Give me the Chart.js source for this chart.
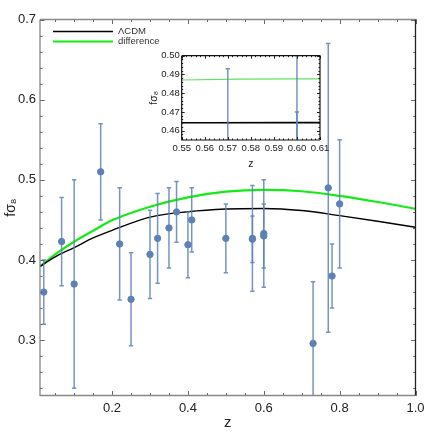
<!DOCTYPE html>
<html>
<head>
<meta charset="utf-8">
<script src="https://cdn.jsdelivr.net/npm/chart.js@4"></script>
<style>
  html, body { margin: 0; padding: 0; background: #fff; }
  #wrap { position: relative; width: 436px; height: 433px; }
  #mainChart { position: absolute; left: 0; top: 0; }
  #insetChart { position: absolute; left: 140px; top: 48px; }
</style>
</head>
<body>
<div id="wrap">
  <canvas id="mainChart" width="436" height="433"></canvas>
  <canvas id="insetChart" width="195" height="125"></canvas>
</div>
<script>
// measurements: redshift, f*sigma8 and its error
const zData   = [0.02, 0.067, 0.10, 0.17, 0.22, 0.25, 0.30, 0.32, 0.35, 0.37, 0.40, 0.41, 0.50, 0.57, 0.57, 0.60, 0.60, 0.73, 0.77, 0.78, 0.80];
const fsData  = [0.360, 0.423, 0.370, 0.510, 0.420, 0.351, 0.407, 0.427, 0.440, 0.460, 0.419, 0.450, 0.427, 0.427, 0.426, 0.430, 0.433, 0.296, 0.490, 0.380, 0.470];
const errData = [0.040, 0.055, 0.130, 0.060, 0.070, 0.058, 0.055, 0.056, 0.050, 0.038, 0.041, 0.040, 0.043, 0.066, 0.029, 0.040, 0.067, 0.077, 0.180, 0.040, 0.080];

// model curves
const zCurve    = [0.01, 0.05, 0.10, 0.15, 0.20, 0.30, 0.40, 0.50, 0.60, 0.70, 0.80, 0.90, 1.00];
const lcdmCurve = [0.392, 0.404, 0.4155, 0.4275, 0.437, 0.4535, 0.4602, 0.4636, 0.4643, 0.4617, 0.4553, 0.4483, 0.4408];
const diffCurve = [0.392, 0.407, 0.4228, 0.4365, 0.4495, 0.4665, 0.4782, 0.4853, 0.4876, 0.4858, 0.4800, 0.4724, 0.4638];

const xTicksMain  = [0.2, 0.4, 0.6, 0.8, 1.0];
const yTicksMain  = [0.3, 0.4, 0.5, 0.6, 0.7];
const xTicksInset = [0.55, 0.56, 0.57, 0.58, 0.59, 0.60, 0.61];
const yTicksInset = [0.46, 0.47, 0.48, 0.49, 0.50];

const family = '"Liberation Sans", Arial, sans-serif';
const pointColor = 'rgb(94,129,181)';
const barColor = 'rgba(94,129,181,0.85)';
const green = 'rgb(20,235,20)';

function toXY(xs, ys) {
  return xs.map((x, i) => ({ x: x, y: ys[i] }));
}

// vertical error bars with small caps, drawn right before the point dataset
const errorBars = {
  id: 'errorBars',
  beforeDatasetDraw(chart, args) {
    const ds = chart.data.datasets[args.index];
    if (!ds.errors) return;
    const { ctx, chartArea: a, scales: { x, y } } = chart;
    ctx.save();
    ctx.beginPath();
    ctx.rect(a.left, a.top, a.right - a.left, a.bottom - a.top);
    ctx.clip();
    ctx.strokeStyle = barColor;
    ctx.lineWidth = 1.5;
    ds.data.forEach((p, i) => {
      const px = x.getPixelForValue(p.x);
      const top = y.getPixelForValue(p.y + ds.errors[i]);
      const bot = y.getPixelForValue(p.y - ds.errors[i]);
      ctx.beginPath();
      ctx.moveTo(px, top); ctx.lineTo(px, bot);
      ctx.moveTo(px - 2.2, top); ctx.lineTo(px + 2.2, top);
      ctx.moveTo(px - 2.2, bot); ctx.lineTo(px + 2.2, bot);
      ctx.stroke();
    });
    ctx.restore();
  }
};

// white plot background (needed for the inset)
const plotBg = {
  id: 'plotBg',
  beforeDatasetsDraw(chart) {
    const { ctx, chartArea: a } = chart;
    ctx.save();
    ctx.fillStyle = '#fff';
    ctx.fillRect(a.left, a.top, a.right - a.left, a.bottom - a.top);
    ctx.restore();
  }
};

// mathematica-like frame with inward ticks on all four sides
const frame = {
  id: 'frame',
  afterDatasetsDraw(chart, args, o) {
    const { ctx, chartArea: a, scales: { x, y } } = chart;
    ctx.save();
    ctx.lineWidth = 1;
    ctx.strokeStyle = o.tickColor;
    const xt = (v, len) => {
      const px = Math.round(x.getPixelForValue(v)) + 0.5;
      ctx.beginPath();
      ctx.moveTo(px, a.bottom); ctx.lineTo(px, a.bottom - len);
      ctx.moveTo(px, a.top); ctx.lineTo(px, a.top + len);
      ctx.stroke();
    };
    const yt = (v, len) => {
      const py = Math.round(y.getPixelForValue(v)) + 0.5;
      ctx.beginPath();
      ctx.moveTo(a.left, py); ctx.lineTo(a.left + len, py);
      ctx.moveTo(a.right, py); ctx.lineTo(a.right - len, py);
      ctx.stroke();
    };
    for (let k = Math.ceil(x.min / o.xMinor - 1e-6); k * o.xMinor <= x.max + 1e-9; k++) xt(k * o.xMinor, o.minorLen);
    for (let k = Math.ceil(y.min / o.yMinor - 1e-6); k * o.yMinor <= y.max + 1e-9; k++) yt(k * o.yMinor, o.minorLen);
    x.ticks.forEach(t => xt(t.value, o.majorLen));
    y.ticks.forEach(t => yt(t.value, o.majorLen));

    ctx.lineWidth = o.frameWidth;
    ctx.strokeStyle = o.frameColor;
    ctx.beginPath();
    ctx.moveTo(a.left, a.top); ctx.lineTo(a.left, a.bottom); ctx.lineTo(a.right, a.bottom);
    ctx.moveTo(a.left, a.top); ctx.lineTo(a.right, a.top);
    ctx.stroke();
    ctx.strokeStyle = o.rightColor;
    ctx.beginPath();
    ctx.moveTo(a.right, a.top); ctx.lineTo(a.right, a.bottom);
    ctx.stroke();
    ctx.restore();
  }
};

// small legend in the upper left corner of the main plot
const curveLegend = {
  id: 'curveLegend',
  afterDraw(chart) {
    const { ctx, chartArea: a } = chart;
    const items = chart.data.datasets.filter(d => d.inLegend);
    ctx.save();
    ctx.font = '9.5px ' + family;
    ctx.textBaseline = 'middle';
    items.forEach((d, i) => {
      const yy = a.top + 12 + i * 10;
      ctx.strokeStyle = d.borderColor;
      ctx.lineWidth = d.borderWidth;
      ctx.beginPath();
      ctx.moveTo(a.left + 13, yy); ctx.lineTo(a.left + 73, yy);
      ctx.stroke();
      ctx.fillStyle = '#333';
      ctx.fillText(d.label, a.left + 78, yy);
    });
    ctx.restore();
  }
};

new Chart(document.getElementById('mainChart'), {
  type: 'scatter',
  data: {
    datasets: [
      {
        label: 'data',
        data: toXY(zData, fsData),
        errors: errData,
        backgroundColor: pointColor,
        borderColor: pointColor,
        pointRadius: 3.2,
        order: 1
      },
      {
        type: 'line',
        label: 'ΛCDM',
        inLegend: true,
        data: toXY(zCurve, lcdmCurve),
        borderColor: '#000',
        borderWidth: 1.4,
        pointRadius: 0,
        cubicInterpolationMode: 'monotone',
        fill: false,
        order: 2
      },
      {
        type: 'line',
        label: 'difference',
        inLegend: true,
        data: toXY(zCurve, diffCurve),
        borderColor: green,
        borderWidth: 2.2,
        pointRadius: 0,
        cubicInterpolationMode: 'monotone',
        fill: false,
        order: 2
      }
    ]
  },
  options: {
    responsive: false,
    animation: false,
    layout: { padding: { top: 19.5, right: 20.5, left: 0, bottom: 0 } },
    plugins: {
      legend: { display: false },
      tooltip: { enabled: false },
      frame: { xMinor: 0.05, yMinor: 0.02, minorLen: 2.5, majorLen: 4.5, tickColor: '#666',
               frameColor: '#888', rightColor: '#222', frameWidth: 1.3 }
    },
    scales: {
      x: {
        type: 'linear',
        min: 0.01,
        max: 1.0,
        afterBuildTicks: s => { s.ticks = xTicksMain.map(v => ({ value: v })); },
        afterFit: s => { s.height = 37.5; },
        grid: { display: false, drawTicks: false },
        border: { display: false },
        ticks: { padding: 5, color: '#222', font: { family: family, size: 13 }, callback: v => v.toFixed(1) },
        title: { display: true, text: 'z', color: '#222', font: { family: family, size: 15 }, padding: { top: 0, bottom: 1 } }
      },
      y: {
        min: 0.231,
        max: 0.7,
        afterBuildTicks: s => { s.ticks = yTicksMain.map(v => ({ value: v })); },
        afterFit: s => { s.width = 40; },
        grid: { display: false, drawTicks: false },
        border: { display: false },
        ticks: { padding: 4, color: '#222', font: { family: family, size: 13 }, callback: v => v.toFixed(1) },
        title: { display: true, text: 'fσ₈', color: '#222', font: { family: family, size: 14 }, padding: { top: 3, bottom: 0 } }
      }
    }
  },
  plugins: [errorBars, frame, curveLegend]
});

// inset: zoom on 0.55 < z < 0.61
new Chart(document.getElementById('insetChart'), {
  type: 'scatter',
  data: {
    datasets: [
      {
        label: 'data',
        data: toXY(zData, fsData),
        errors: errData,
        backgroundColor: pointColor,
        borderColor: pointColor,
        pointRadius: 3.2,
        order: 1
      },
      {
        type: 'line',
        label: 'ΛCDM',
        data: toXY(zCurve, lcdmCurve),
        borderColor: '#000',
        borderWidth: 1.6,
        pointRadius: 0,
        cubicInterpolationMode: 'monotone',
        order: 2
      },
      {
        type: 'line',
        label: 'difference',
        data: toXY(zCurve, diffCurve),
        borderColor: 'rgb(100,225,100)',
        borderWidth: 1.2,
        pointRadius: 0,
        cubicInterpolationMode: 'monotone',
        order: 2
      }
    ]
  },
  options: {
    responsive: false,
    animation: false,
    layout: { padding: { top: 7, right: 15, left: 0, bottom: 0 } },
    plugins: {
      legend: { display: false },
      tooltip: { enabled: false },
      frame: { xMinor: 0.002, yMinor: 0.002, minorLen: 1.5, majorLen: 3, tickColor: '#222',
               frameColor: '#111', rightColor: '#111', frameWidth: 1.2 }
    },
    scales: {
      x: {
        type: 'linear',
        min: 0.55,
        max: 0.61,
        afterBuildTicks: s => { s.ticks = xTicksInset.map(v => ({ value: v })); },
        afterFit: s => { s.height = 33; },
        grid: { display: false, drawTicks: false },
        border: { display: false },
        ticks: { padding: 3, color: '#222', font: { family: family, size: 9.5 }, maxRotation: 0, autoSkip: false, callback: v => v.toFixed(2) },
        title: { display: true, text: 'z', color: '#222', font: { family: family, size: 10.5 }, padding: { top: 0, bottom: 3 } }
      },
      y: {
        min: 0.455,
        max: 0.50,
        afterBuildTicks: s => { s.ticks = yTicksInset.map(v => ({ value: v })); },
        afterFit: s => { s.width = 41.7; },
        grid: { display: false, drawTicks: false },
        border: { display: false },
        ticks: { padding: 2, color: '#222', font: { family: family, size: 9.5 }, autoSkip: false, callback: v => v.toFixed(2) },
        title: { display: true, text: 'fσ₈', color: '#222', font: { family: family, size: 10.5 }, padding: { top: 8, bottom: 0 } }
      }
    }
  },
  plugins: [plotBg, errorBars, frame]
});
</script>
</body>
</html>
